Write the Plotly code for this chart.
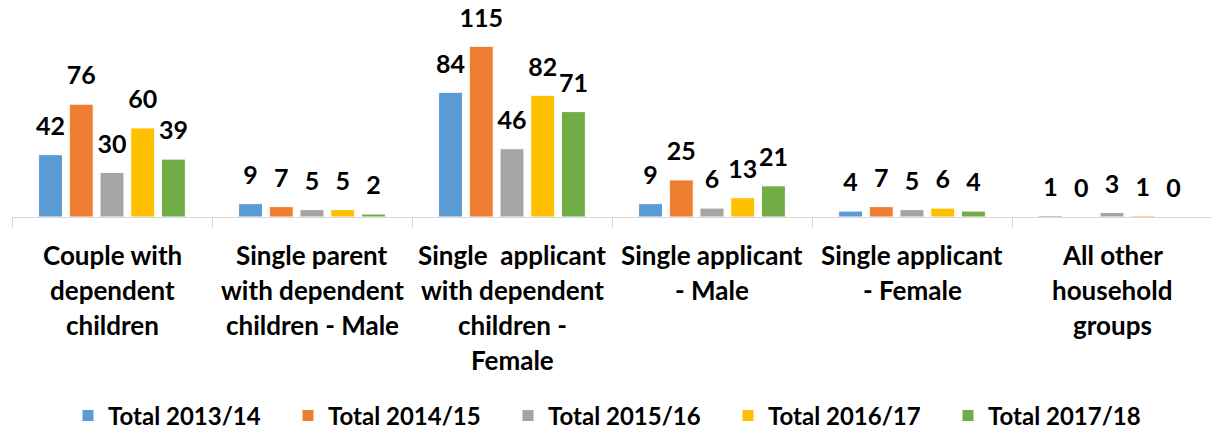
import plotly.graph_objects as go

categories = [
    "Couple with dependent children",
    "Single parent with dependent children - Male",
    "Single applicant with dependent children - Female",
    "Single applicant - Male",
    "Single applicant - Female",
    "All other household groups",
]
label_lines = [
    ["Couple with", "dependent", "children"],
    ["Single parent", "with dependent", "children - Male"],
    ["Single  applicant", "with dependent", "children -", "Female"],
    ["Single applicant", "- Male"],
    ["Single applicant", "- Female"],
    ["All other", "household", "groups"],
]
series_names = ["Total 2013/14", "Total 2014/15", "Total 2015/16", "Total 2016/17", "Total 2017/18"]
total_2013_14 = [42, 9, 84, 9, 4, 1]
total_2014_15 = [76, 7, 115, 25, 7, 0]
total_2015_16 = [30, 5, 46, 6, 5, 3]
total_2016_17 = [60, 5, 82, 13, 6, 1]
total_2017_18 = [39, 2, 71, 21, 4, 0]
series_values = [total_2013_14, total_2014_15, total_2015_16, total_2016_17, total_2017_18]
colors = ["#5B9BD5", "#ED7D31", "#A5A5A5", "#FFC000", "#70AD47"]

FONT = "Lato"
GAP = 0.232
fig = go.Figure()
for name, vals, col in zip(series_names, series_values, colors):
    fig.add_trace(go.Bar(
        x=categories, y=vals, name=name,
        marker=dict(color=col, line=dict(color="white", width=1)),
        cliponaxis=False,
    ))
# value labels, grouped like the bars
for name, vals in zip(series_names, series_values):
    fig.add_trace(go.Scatter(
        x=categories, y=vals, mode="markers+text", showlegend=False,
        text=[str(v) for v in vals], textposition="top center",
        marker=dict(size=20, opacity=0),
        textfont=dict(family=FONT, size=25, color="black", weight="bold"),
        cliponaxis=False, hoverinfo="skip",
    ))

for cat, lines in zip(categories, label_lines):
    for i, ln in enumerate(lines):
        fig.add_annotation(
            x=cat, xref="x", y=0, yref="paper",
            text=ln, showarrow=False, yanchor="middle", xanchor="center",
            yshift=-38 - 35 * i,
            font=dict(family=FONT, size=26, color="black", weight="bold"),
        )

fig.update_layout(
    width=1212, height=430,
    margin=dict(l=12, r=0, t=20, b=213, autoexpand=False),
    plot_bgcolor="white", paper_bgcolor="white",
    barmode="group", bargap=GAP, bargroupgap=0.22,
    scattermode="group", scattergap=GAP,
    showlegend=True,
    legend=dict(
        orientation="h", x=0.505, xanchor="center", y=-1.01, yanchor="middle",
        font=dict(family=FONT, size=24, color="black", weight="bold"),
        entrywidth=175, entrywidthmode="pixels", itemclick=False,
    ),
    xaxis=dict(
        range=[-0.5, 5.5],
        showticklabels=False, showline=True, linecolor="#D9D9D9", linewidth=1,
        ticks="outside", tickson="boundaries", ticklen=10, tickcolor="#D9D9D9",
        showgrid=False,
    ),
    yaxis=dict(range=[0, 132.7], visible=False, showgrid=False),
)

fig.write_html("out.html", config={"displayModeBar": False},
               post_script="document.body.style.margin='0';")
